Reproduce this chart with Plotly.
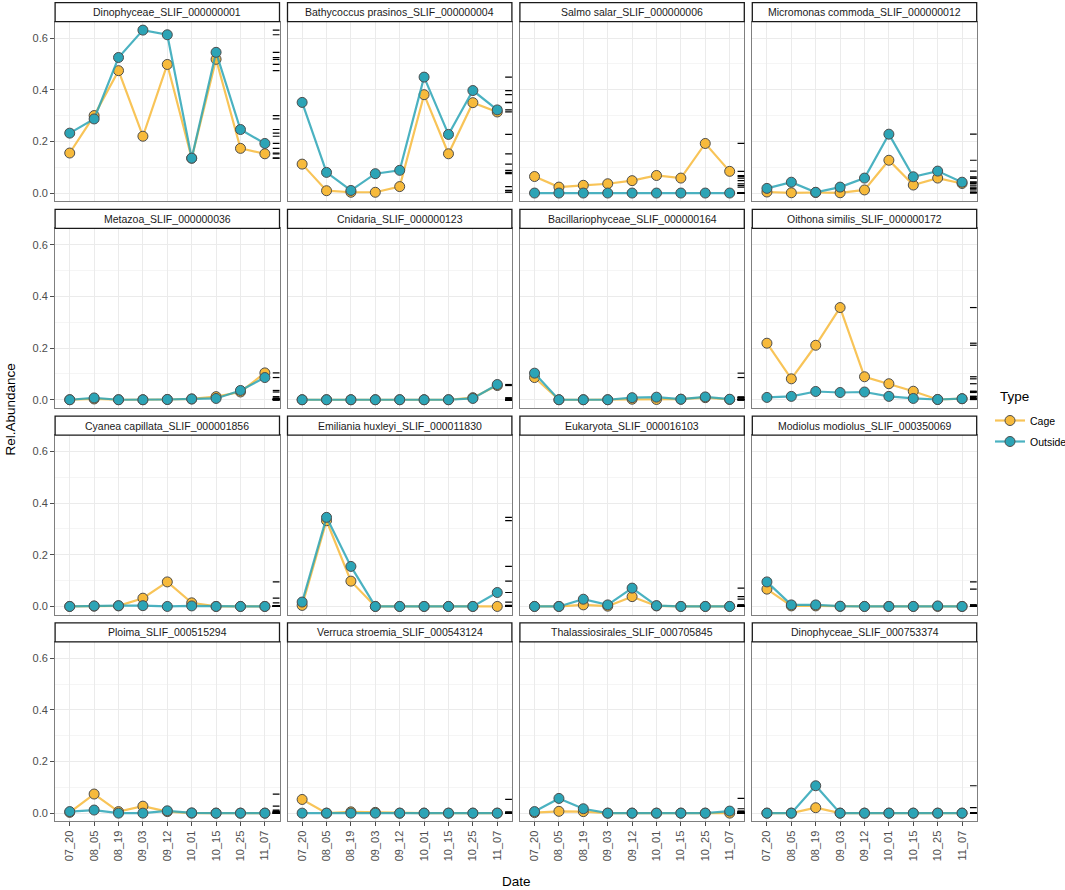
import plotly.graph_objects as go

dates = ["07_20", "08_05", "08_19", "09_03", "09_12", "10_01", "10_15", "10_25", "11_07"]

taxa = [
    "Dinophyceae_SLIF_000000001", "Bathycoccus prasinos_SLIF_000000004",
    "Salmo salar_SLIF_000000006", "Micromonas commoda_SLIF_000000012",
    "Metazoa_SLIF_000000036", "Cnidaria_SLIF_000000123",
    "Bacillariophyceae_SLIF_000000164", "Oithona similis_SLIF_000000172",
    "Cyanea capillata_SLIF_000001856", "Emiliania huxleyi_SLIF_000011830",
    "Eukaryota_SLIF_000016103", "Modiolus modiolus_SLIF_000350069",
    "Ploima_SLIF_000515294", "Verruca stroemia_SLIF_000543124",
    "Thalassiosirales_SLIF_000705845", "Dinophyceae_SLIF_000753374",
]

cage_values = [
    [0.155, 0.300, 0.474, 0.220, 0.498, 0.135, 0.518, 0.173, 0.152],
    [0.112, 0.009, 0.003, 0.003, 0.025, 0.381, 0.152, 0.350, 0.314],
    [0.064, 0.023, 0.030, 0.036, 0.048, 0.068, 0.058, 0.192, 0.084],
    [0.004, 0.001, 0.002, 0.001, 0.012, 0.127, 0.031, 0.058, 0.037],
    [0.000, 0.003, 0.000, 0.000, 0.001, 0.003, 0.012, 0.030, 0.104],
    [0.000, 0.000, 0.000, 0.000, 0.000, 0.000, 0.000, 0.008, 0.055],
    [0.086, 0.000, 0.000, 0.000, 0.002, 0.001, 0.002, 0.008, 0.001],
    [0.219, 0.081, 0.211, 0.357, 0.089, 0.062, 0.033, 0.001, 0.004],
    [0.000, 0.001, 0.002, 0.032, 0.095, 0.014, 0.000, 0.000, 0.000],
    [0.004, 0.332, 0.098, 0.000, 0.000, 0.000, 0.000, 0.000, 0.000],
    [0.000, 0.000, 0.006, 0.001, 0.038, 0.002, 0.000, 0.000, 0.000],
    [0.067, 0.002, 0.002, 0.000, 0.000, 0.000, 0.000, 0.000, 0.000],
    [0.003, 0.074, 0.006, 0.027, 0.006, 0.000, 0.000, 0.000, 0.000],
    [0.053, 0.000, 0.005, 0.003, 0.000, 0.000, 0.000, 0.000, 0.000],
    [0.002, 0.007, 0.006, 0.000, 0.000, 0.000, 0.000, 0.000, 0.000],
    [0.000, 0.000, 0.021, 0.000, 0.000, 0.000, 0.000, 0.000, 0.000],
]

outside_values = [
    [0.232, 0.287, 0.525, 0.631, 0.613, 0.135, 0.545, 0.246, 0.192],
    [0.351, 0.080, 0.010, 0.075, 0.088, 0.449, 0.227, 0.397, 0.322],
    [0.000, 0.000, 0.000, 0.000, 0.000, 0.000, 0.000, 0.000, 0.000],
    [0.018, 0.042, 0.003, 0.023, 0.058, 0.228, 0.063, 0.085, 0.042],
    [0.000, 0.007, 0.000, 0.000, 0.001, 0.003, 0.005, 0.036, 0.086],
    [0.000, 0.000, 0.000, 0.000, 0.000, 0.000, 0.000, 0.005, 0.059],
    [0.103, 0.000, 0.000, 0.000, 0.008, 0.010, 0.002, 0.011, 0.002],
    [0.009, 0.013, 0.032, 0.028, 0.030, 0.013, 0.005, 0.001, 0.004],
    [0.000, 0.002, 0.003, 0.003, 0.000, 0.002, 0.000, 0.000, 0.000],
    [0.017, 0.345, 0.155, 0.000, 0.000, 0.000, 0.000, 0.000, 0.054],
    [0.000, 0.000, 0.028, 0.006, 0.071, 0.003, 0.000, 0.000, 0.000],
    [0.095, 0.006, 0.006, 0.001, 0.000, 0.000, 0.000, 0.002, 0.000],
    [0.006, 0.012, 0.000, 0.000, 0.009, 0.001, 0.000, 0.000, 0.000],
    [0.000, 0.000, 0.000, 0.000, 0.000, 0.000, 0.000, 0.000, 0.000],
    [0.006, 0.057, 0.017, 0.000, 0.000, 0.000, 0.000, 0.000, 0.008],
    [0.000, 0.000, 0.106, 0.000, 0.000, 0.000, 0.000, 0.000, 0.000],
]

series_names = ["Cage", "Outside"]
series_fill = ["#F7BA3B", "#2CA4B6"]
series_line = ["rgba(247,186,59,0.85)", "rgba(44,164,182,0.85)"]
y_tickvals = [0.0, 0.2, 0.4, 0.6]
y_ticktext = ["0.0", "0.2", "0.4", "0.6"]

W, H = 1065, 890
FONT = "Liberation Sans, Arial, Helvetica, sans-serif"

# layout geometry (pixels)
col_left0, col_pitch, panel_w = 55.1, 232.4, 224.4
row_top0, row_pitch, panel_h, strip_h = 21.7, 206.7, 179.5, 19.0

fig = go.Figure()
layout = {}
shapes = []
annotations = []

for i, taxon in enumerate(taxa):
    r, c = divmod(i, 4)
    n = i + 1
    xa = "x" if n == 1 else f"x{n}"
    ya = "y" if n == 1 else f"y{n}"
    xkey = "xaxis" if n == 1 else f"xaxis{n}"
    ykey = "yaxis" if n == 1 else f"yaxis{n}"

    x0p = col_left0 + c * col_pitch
    x1p = x0p + panel_w
    ytop = row_top0 + r * row_pitch
    ybot = ytop + panel_h

    layout[xkey] = dict(
        domain=[x0p / W, x1p / W], anchor=ya, type="category",
        categoryorder="array", categoryarray=dates, range=[-0.6, 8.6],
        showgrid=True, gridcolor="#EBEBEB", gridwidth=1,
        showline=True, mirror=True, linecolor="#7F7F7F", linewidth=1,
        zeroline=False,
        showticklabels=(r == 3), ticks="outside" if r == 3 else "",
        ticklen=4, tickcolor="#4D4D4D", tickangle=-90,
        tickfont=dict(family=FONT, size=11, color="#4D4D4D"),
    )
    layout[ykey] = dict(
        domain=[1 - ybot / H, 1 - ytop / H], anchor=xa,
        range=[-0.0316, 0.6636], tickvals=y_tickvals, ticktext=y_ticktext,
        showgrid=True, gridcolor="#EBEBEB", gridwidth=1,
        minor=dict(tickvals=[0.1, 0.3, 0.5], showgrid=True,
                   gridcolor="#F5F5F5", gridwidth=0.6),
        showline=True, mirror=True, linecolor="#7F7F7F", linewidth=1,
        zeroline=False,
        showticklabels=(c == 0), ticks="outside" if c == 0 else "",
        ticklen=4, tickcolor="#4D4D4D",
        tickfont=dict(family=FONT, size=11, color="#4D4D4D"),
    )

    for s, vals in enumerate([cage_values[i], outside_values[i]]):
        fig.add_trace(go.Scatter(
            x=dates, y=vals, xaxis=xa, yaxis=ya,
            mode="lines+markers", name=series_names[s],
            legendgroup=series_names[s], showlegend=(i == 0),
            line=dict(color=series_line[s], width=2.2),
            marker=dict(size=10, color=series_fill[s],
                        line=dict(color="#4D4D4D", width=1)),
            hoverinfo="x+y+name",
        ))

    # rug on the right side (from data values)
    for vals in (cage_values[i], outside_values[i]):
        for v in vals:
            shapes.append(dict(
                type="line", xref=f"{xa} domain", yref=ya,
                x0=0.97, x1=1.0, y0=v, y1=v,
                line=dict(color="black", width=1.2), layer="above",
            ))

    # strip
    st_top = ytop - strip_h
    shapes.append(dict(
        type="rect", xref="paper", yref="paper",
        x0=x0p / W, x1=x1p / W, y0=1 - ytop / H, y1=1 - st_top / H,
        fillcolor="white", line=dict(color="#1A1A1A", width=1.3),
    ))
    annotations.append(dict(
        text=taxon, xref="paper", yref="paper",
        x=(x0p + x1p) / 2 / W, y=1 - (st_top + strip_h / 2) / H,
        showarrow=False, xanchor="center", yanchor="middle",
        font=dict(family=FONT, size=10.5, color="#1A1A1A"),
    ))

annotations.append(dict(
    text="Rel.Abundance", xref="paper", yref="paper",
    x=0.0, y=1 - 410 / H, textangle=-90, showarrow=False,
    xanchor="left", yanchor="middle",
    font=dict(family=FONT, size=13.5, color="black"),
))
annotations.append(dict(
    text="Date", xref="paper", yref="paper",
    x=516 / W, y=1 - 881 / H, showarrow=False,
    xanchor="center", yanchor="middle",
    font=dict(family=FONT, size=13.5, color="black"),
))
annotations.append(dict(
    text="Type", xref="paper", yref="paper",
    x=998 / W, y=1 - 396 / H, showarrow=False,
    xanchor="left", yanchor="middle",
    font=dict(family=FONT, size=13.5, color="black"),
))

fig.update_layout(
    **layout,
    width=W, height=H,
    margin=dict(l=0, r=0, t=0, b=0, autoexpand=False),
    paper_bgcolor="white", plot_bgcolor="white",
    shapes=shapes, annotations=annotations,
    showlegend=True,
    legend=dict(
        x=990 / W, y=1 - 406 / H, xanchor="left", yanchor="top",
        font=dict(family=FONT, size=10.5, color="black"),
        bgcolor="rgba(0,0,0,0)", itemwidth=30,
        traceorder="grouped", tracegroupgap=2,
    ),
    font=dict(family=FONT),
)

fig.write_html(
    "out.html",
    config={"displayModeBar": False},
    post_script="document.body.style.margin='0px';document.body.style.overflow='hidden';",
)
